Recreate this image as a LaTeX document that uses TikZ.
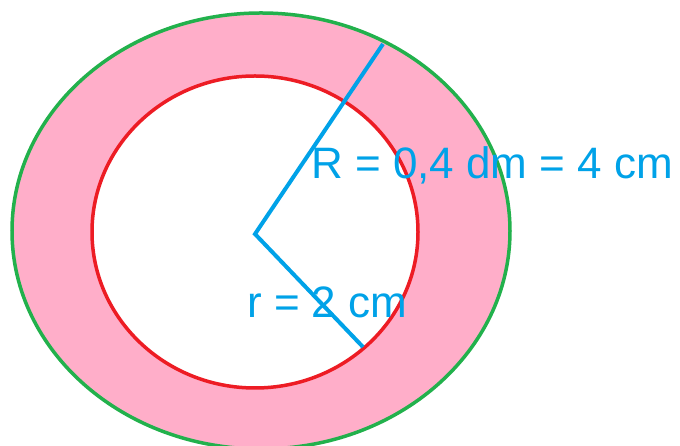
\documentclass[tikz,border=0pt]{standalone}
\usepackage{fontspec}
\setmainfont{Liberation Sans}
\definecolor{pgreen}{HTML}{22B14C}
\definecolor{pred}{HTML}{ED1C24}
\definecolor{pblue}{HTML}{00A2E8}
\definecolor{ppink}{HTML}{FFAEC9}
\tikzset{
  lbl/.style={text=pblue, inner sep=0pt, anchor=base west, font=\fontsize{44}{44}\selectfont},
  radius line/.style={draw=pblue, line width=4pt},
}
\begin{document}
\begin{tikzpicture}[x=1pt,y=1pt]
\useasboundingbox (0,0) rectangle (680,446);
\fill[white] (0,0) rectangle (680,446);
% annulus fill
\fill[ppink, even odd rule] (261,215) ellipse [x radius=249, y radius=218]
  (255,214) ellipse [x radius=163, y radius=156];
\draw[pgreen, line width=3.5pt] (261,215) ellipse [x radius=249, y radius=218];
\draw[pred, line width=3.5pt] (255,214) ellipse [x radius=163, y radius=156];
% radii
\coordinate (O) at (255,212);
\coordinate (A) at (383,402);
\coordinate (B) at (363,99);
\draw[radius line, line join=miter] (A) -- (O) -- (B);
% labels
\node[lbl] (Rlbl) at (311,267) {R = 0,4 dm = 4 cm};
\node[lbl] (rlbl) at (247,128) {r = 2 cm};
\end{tikzpicture}
\end{document}
